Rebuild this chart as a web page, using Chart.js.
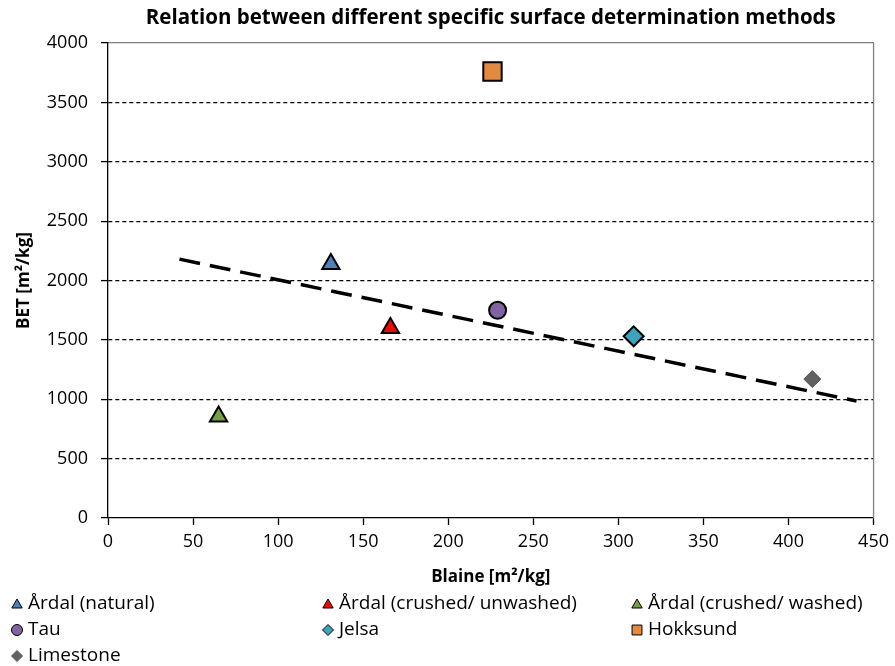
<!DOCTYPE html>
<html>
<head>
<meta charset="utf-8">
<script src="https://cdn.jsdelivr.net/npm/chart.js@4/dist/chart.umd.min.js"></script>
<style>
  html, body { margin: 0; padding: 0; background: #fff; }
  canvas { display: block; }
</style>
</head>
<body>
<canvas id="chart" width="895" height="666"></canvas>
<script>
// Blaine [m2/kg] vs BET [m2/kg], one point per material
const seriesNames = ['Årdal (natural)', 'Årdal (crushed/ unwashed)', 'Årdal (crushed/ washed)', 'Tau', 'Jelsa', 'Hokksund', 'Limestone'];
const blaine = [131, 166, 65, 229, 309, 226, 414];
const bet = [2140, 1600, 855, 1750, 1530, 3760, 1170];
const markerStyles = ['triangle', 'triangle', 'triangle', 'circle', 'rectRot', 'rect', 'rectRot'];
const markerColors = ['#4F81BD', '#FF0000', '#77A043', '#8064A2', '#3BA3BF', '#E38A3F', '#616161'];
const markerRadius = [10, 10, 10, 8.5, 10, 13, 8.5];

// dashed trend line end points
const trendX = [42, 440];
const trendY = [2180, 985];

const xTicks = [0, 50, 100, 150, 200, 250, 300, 350, 400, 450];
const yTicks = [0, 500, 1000, 1500, 2000, 2500, 3000, 3500, 4000];

const FONT = "'Open Sans', 'DejaVu Sans', sans-serif";

const pointSets = seriesNames.map((name, i) => ({
  label: name,
  data: [{ x: blaine[i], y: bet[i] }],
  pointStyle: markerStyles[i],
  pointRadius: markerRadius[i],
  pointHoverRadius: markerRadius[i],
  backgroundColor: markerColors[i],
  borderColor: i === 6 ? '#555' : '#000',
  borderWidth: i === 6 ? 1 : 2,
  showLine: false,
  order: 0
}));

const trendSet = {
  label: 'trend',
  data: trendX.map((x, i) => ({ x: x, y: trendY[i] })),
  showLine: true,
  borderColor: '#000',
  borderWidth: 3.5,
  borderDash: [21, 10],
  pointRadius: 0,
  fill: false,
  order: 10,
  noLegend: true
};

// right edge of the plot frame (top edge comes from the x2 axis)
const framePlugin = {
  id: 'frame',
  beforeDatasetsDraw(chart) {
    const { ctx, chartArea: a } = chart;
    ctx.save();
    ctx.strokeStyle = '#808080';
    ctx.lineWidth = 1.3;
    ctx.beginPath();
    ctx.moveTo(a.right, a.top);
    ctx.lineTo(a.right, a.bottom);
    ctx.stroke();
    ctx.restore();
  }
};

// legend in three fixed columns below the axis
const gridLegend = {
  id: 'gridLegend',
  afterDraw(chart) {
    const ctx = chart.ctx;
    const colX = [17, 328, 637];
    const rowY = [604, 630, 656];
    const items = chart.data.datasets.filter(d => !d.noLegend);
    ctx.save();
    ctx.font = '19px ' + FONT;
    ctx.textBaseline = 'middle';
    ctx.fillStyle = '#000';
    items.forEach((d, i) => {
      const x = colX[i % 3];
      const y = rowY[Math.floor(i / 3)];
      ctx.save();
      ctx.fillStyle = d.backgroundColor;
      ctx.strokeStyle = d.borderColor;
      ctx.lineWidth = 1;
      Chart.helpers.drawPoint(ctx, {
        pointStyle: d.pointStyle,
        radius: d.pointStyle === 'rect' ? 7 : (d.pointStyle === 'triangle' ? 6 : 5.5),
        borderWidth: 1,
        rotation: 0
      }, x, y + (d.pointStyle === 'triangle' ? 1 : 0));
      ctx.restore();
      ctx.fillStyle = '#000';
      ctx.fillText(d.label, x + 11, y);
    });
    ctx.restore();
  }
};

new Chart(document.getElementById('chart'), {
  type: 'scatter',
  data: { datasets: [trendSet].concat(pointSets) },
  options: {
    responsive: false,
    animation: false,
    layout: { padding: { left: 0, right: 19, top: 0, bottom: 76 } },
    plugins: {
      legend: { display: false },
      tooltip: { enabled: false }
    },
    scales: {
      x: {
        type: 'linear',
        min: 0,
        max: 450,
        afterBuildTicks(scale) { scale.ticks = xTicks.map(v => ({ value: v })); },
        afterFit(scale) { scale.height = 72; },
        ticks: {
          color: '#000',
          padding: 6,
          font: { family: FONT, size: 18 },
          callback: v => String(v)
        },
        grid: {
          display: true,
          drawOnChartArea: false,
          drawTicks: true,
          tickLength: 7,
          tickColor: '#000',
          tickWidth: 1.3
        },
        border: { display: true, color: '#000', width: 1.3 },
        title: {
          display: true,
          text: 'Blaine [m²/kg]',
          color: '#000',
          font: { family: FONT, size: 17, weight: 'bold' },
          padding: { top: 0, bottom: 3 }
        }
      },
      // top axis only carries the chart title, centred over the plot area
      x2: {
        type: 'linear',
        position: 'top',
        min: 0,
        max: 450,
        afterFit(scale) { scale.height = 43; },
        ticks: { display: false },
        grid: { display: false, drawTicks: false },
        border: { display: true, color: '#808080', width: 1.3 },
        title: {
          display: true,
          text: 'Relation between different specific surface determination methods',
          color: '#000',
          font: { family: FONT, size: 20.5, weight: 'bold' },
          padding: { top: 6, bottom: 0 }
        }
      },
      y: {
        type: 'linear',
        min: 0,
        max: 4000,
        afterBuildTicks(scale) { scale.ticks = yTicks.map(v => ({ value: v })); },
        afterFit(scale) { scale.width = 108; },
        ticks: {
          color: '#000',
          padding: 13,
          font: { family: FONT, size: 18 },
          callback: v => String(v)
        },
        grid: {
          display: true,
          drawOnChartArea: true,
          drawTicks: true,
          tickLength: 7,
          tickColor: '#000',
          tickWidth: 1.3,
          lineWidth: 1.2,
          color: c => (c.tick && (c.tick.value === 0 || c.tick.value === 4000)) ? 'rgba(0,0,0,0)' : '#000'
        },
        border: { display: true, color: '#000', width: 1.3, dash: [4, 3] },
        title: {
          display: true,
          text: 'BET [m²/kg]',
          color: '#000',
          font: { family: FONT, size: 17, weight: 'bold' },
          padding: { top: 14, bottom: 0 }
        }
      }
    }
  },
  plugins: [framePlugin, gridLegend]
});
</script>
</body>
</html>
